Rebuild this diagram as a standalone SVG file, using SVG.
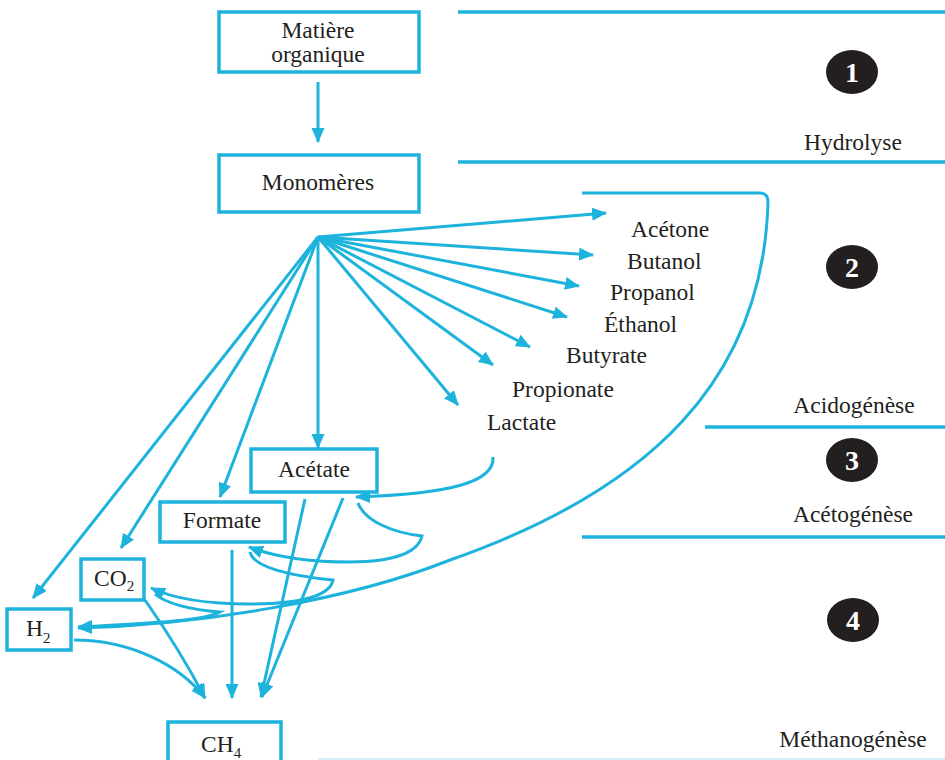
<svg xmlns="http://www.w3.org/2000/svg" width="945" height="760" viewBox="0 0 945 760">
<defs>
<marker id="ah" viewBox="0 0 15 13" refX="14" refY="6.5" markerWidth="15" markerHeight="13" markerUnits="userSpaceOnUse" orient="auto">
<path d="M0,0 L15,6.5 L0,13 z" fill="#1db3dc"/>
</marker>
<style>
.box{fill:#fff;stroke:#1db3dc;stroke-width:3.5}
.sec{fill:none;stroke:#1db3dc;stroke-width:3.5}
.ar{fill:none;stroke:#1db3dc;stroke-width:3;marker-end:url(#ah)}
.t{font-family:"Liberation Serif","Times New Roman",serif;font-size:23.5px;fill:#231f20}
.m{text-anchor:middle}
.sub{font-size:15px}
.num{font-family:"Liberation Serif","Times New Roman",serif;font-size:28px;font-weight:bold;fill:#fff;text-anchor:middle}
</style>
</defs>
<rect width="945" height="760" fill="#fff"/>

<g id="stages">
<line class="sec" x1="458" y1="12" x2="945" y2="12"/>
<line class="sec" x1="458" y1="162" x2="945" y2="162"/>
<line class="sec" x1="705" y1="427" x2="945" y2="427"/>
<line class="sec" x1="582" y1="537" x2="945" y2="537"/>
<line x1="318" y1="759" x2="945" y2="759" stroke="#d5edf5" stroke-width="2"/>
<ellipse cx="852" cy="72" rx="26" ry="22" fill="#231f20"/>
<text class="num" x="852" y="82">1</text>
<ellipse cx="852" cy="267" rx="26" ry="22" fill="#231f20"/>
<text class="num" x="852" y="277">2</text>
<ellipse cx="852" cy="460" rx="26" ry="22" fill="#231f20"/>
<text class="num" x="852" y="470">3</text>
<ellipse cx="853" cy="620" rx="26" ry="22" fill="#231f20"/>
<text class="num" x="853" y="630">4</text>
<text class="t m" x="853" y="150">Hydrolyse</text>
<text class="t m" x="854" y="413">Acidogénèse</text>
<text class="t m" x="853" y="522">Acétogénèse</text>
<text class="t m" x="853" y="747">Méthanogénèse</text>
</g>

<g id="matiere">
<rect class="box" x="219" y="12" width="200" height="60"/>
<text class="t m" x="318" y="38">Matière</text>
<text class="t m" x="318" y="62">organique</text>
</g>
<g id="monomeres">
<rect class="box" x="219" y="155" width="200" height="57"/>
<text class="t m" x="318" y="190">Monomères</text>
</g>

<g id="products">
<text class="t" x="631" y="237">Acétone</text>
<text class="t" x="627" y="269">Butanol</text>
<text class="t" x="610" y="300">Propanol</text>
<text class="t" x="604" y="332">Éthanol</text>
<text class="t" x="566" y="363">Butyrate</text>
<text class="t" x="512" y="397">Propionate</text>
<text class="t" x="487" y="430">Lactate</text>
</g>

<g id="acetate">
<rect class="box" x="251" y="449" width="126" height="43"/>
<text class="t m" x="314" y="477">Acétate</text>
</g>
<g id="formate">
<rect class="box" x="160" y="502" width="125" height="40"/>
<text class="t m" x="222" y="528">Formate</text>
</g>
<g id="co2">
<rect class="box" x="81" y="559" width="63" height="41"/>
<text class="t" x="94" y="586">CO<tspan class="sub" dy="5">2</tspan></text>
</g>
<g id="h2">
<rect class="box" x="7" y="609" width="64" height="41"/>
<text class="t" x="26" y="636">H<tspan class="sub" dy="7">2</tspan></text>
</g>
<g id="ch4">
<rect class="box" x="168" y="722" width="113" height="45"/>
<text class="t" x="201" y="752">CH<tspan class="sub" dy="6">4</tspan></text>
</g>

<g id="connectors">
<path class="ar" d="M318,82 V142"/>
<path class="ar" d="M318,237 L606,213"/>
<path class="ar" d="M318,237 L593,255"/>
<path class="ar" d="M318,237 L579,286"/>
<path class="ar" d="M318,237 L567,317"/>
<path class="ar" d="M318,237 L530,347"/>
<path class="ar" d="M318,237 L493,365"/>
<path class="ar" d="M318,237 L458,405"/>
<path class="ar" d="M318,237 L318,448"/>
<path class="ar" d="M318,237 L220,497"/>
<path class="ar" d="M318,237 L121,548"/>
<path class="ar" d="M318,237 L33,598"/>
<path class="ar" d="M582,193 H760 Q768,193 768,202 C763,380 650,490 450,560 C350,600 200,625 78,628"/>
<path class="ar" d="M493,457 C495,482 450,494 356,497"/>
<path class="ar" d="M358,503 C365,522 395,533 422,536 C418,552 395,562 350,562 C305,562 270,555 249,547"/>
<path class="ar" d="M250,552 C253,567 290,576 333,580 C330,596 300,604 250,604 C200,604 170,597 151,588"/>
<path class="ar" d="M155,594 C165,603 190,610 220,612 C205,620 160,623 78,627"/>
<path class="ar" d="M232,550 V698"/>
<path class="ar" d="M305,499 L261,697"/>
<path class="ar" d="M343,498 L262,697"/>
<path class="ar" d="M145,600 Q180,650 205,698"/>
<path class="ar" d="M74,640 C130,640 180,665 205,698"/>
</g>
</svg>
